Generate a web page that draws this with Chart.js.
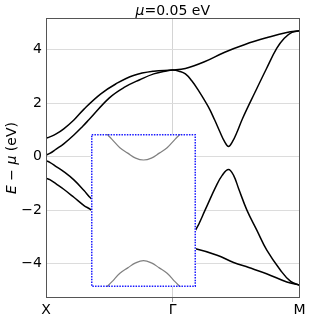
<!DOCTYPE html>
<html>
<head>
<meta charset="utf-8">
<script src="https://cdn.jsdelivr.net/npm/chart.js@4.4.1/dist/chart.umd.min.js"></script>
<style>
    html, body { margin: 0; padding: 0; background: #fff; }
    #wrap { position: relative; width: 310px; height: 320px; }
    #mainChart { position: absolute; left: 0; top: 0; }
    #insetChart { position: absolute; left: 91px; top: 134px; }
</style>
</head>
<body>
<div id="wrap">
    <canvas id="mainChart" width="310" height="320"></canvas>
    <canvas id="insetChart" width="105" height="153"></canvas>
</div>
<script>
// axis ticks
const kTicks = [0, 1, 2];
const kLabels = ['X', 'Γ', 'M'];
const energyTicks = [-4, -2, 0, 2, 4];

// bands (k: X=0, Γ=1, M=2; energy E - mu in eV)
const band1K = [0, 0.03, 0.08, 0.14, 0.22, 0.3, 0.43, 0.55, 0.69, 0.85, 1.0, 1.1, 1.25, 1.41, 1.57, 1.74, 1.9, 2.0];
const band1E = [0.69, 0.74, 0.85, 1.04, 1.37, 1.78, 2.34, 2.72, 3.04, 3.2, 3.24, 3.3, 3.55, 3.91, 4.2, 4.45, 4.65, 4.71];

const band2K = [0, 0.03, 0.08, 0.14, 0.22, 0.29, 0.34, 0.5, 0.62, 0.74, 0.85, 0.95, 1.0, 1.05, 1.1, 1.15, 1.2, 1.28, 1.33, 1.37, 1.41, 1.44, 1.47, 1.51, 1.55, 1.65, 1.74, 1.82, 1.88, 1.94, 2.0];
const band2E = [0.06, 0.12, 0.28, 0.48, 0.81, 1.14, 1.39, 2.2, 2.6, 2.88, 3.1, 3.21, 3.24, 3.2, 3.1, 2.84, 2.5, 1.87, 1.38, 0.95, 0.55, 0.38, 0.55, 0.95, 1.42, 2.42, 3.3, 4.05, 4.43, 4.65, 4.71];

const band3K = [0, 0.03, 0.08, 0.14, 0.22, 0.3, 0.35, 0.5, 0.7, 0.85, 1.0, 1.1, 1.18, 1.255, 1.34, 1.39, 1.44, 1.48, 1.52, 1.585, 1.663, 1.742, 1.85, 1.93, 2.0];
const band3E = [-0.15, -0.21, -0.37, -0.56, -0.87, -1.27, -1.54, -2.2, -2.85, -3.2, -3.3, -3.2, -2.75, -2.0, -1.12, -0.7, -0.48, -0.7, -1.2, -2.0, -2.75, -3.5, -4.25, -4.67, -4.81];

const band4K = [0, 0.03, 0.08, 0.14, 0.22, 0.3, 0.35, 0.5, 0.7, 0.85, 1.0, 1.18, 1.35, 1.48, 1.6, 1.74, 1.9, 2.0];
const band4E = [-0.81, -0.86, -1.02, -1.22, -1.52, -1.83, -1.97, -2.5, -3.0, -3.22, -3.3, -3.45, -3.69, -3.96, -4.15, -4.38, -4.69, -4.81];

// inset (zoomed view, no axes shown)
const insetK = [-0.7, -0.6, -0.45, -0.3, -0.15, 0, 0.15, 0.3, 0.45, 0.6, 0.7];
const insetUpper = [1.0, 0.93, 0.82, 0.75, 0.685, 0.66, 0.685, 0.75, 0.82, 0.93, 1.0];
const insetLower = [-1.0, -0.93, -0.82, -0.75, -0.685, -0.655, -0.685, -0.75, -0.82, -0.93, -1.0];

const FONT = '"DejaVu Sans", sans-serif';

function toPoints(ks, es) {
    return ks.map((k, i) => ({ x: k, y: es[i] }));
}

function bandDataset(ks, es, color, width) {
    return {
        data: toPoints(ks, es),
        borderColor: color,
        borderWidth: width,
        pointRadius: 0,
        fill: false,
        tension: 0.4,
    };
}

function drawRuns(ctx, runs, x, y) {
    let total = 0;
    runs.forEach(run => {
        ctx.font = `${run.italic ? 'italic ' : ''}14px ${FONT}`;
        run.w = ctx.measureText(run.text).width;
        total += run.w;
    });
    let start = x - total / 2;
    runs.forEach(run => {
        ctx.font = `${run.italic ? 'italic ' : ''}14px ${FONT}`;
        ctx.fillText(run.text, start, y);
        start += run.w;
    });
}

const frameAndLabels = {
    id: 'frameAndLabels',
    afterDraw(chart) {
        const { ctx, chartArea: a } = chart;
        ctx.save();
        ctx.strokeStyle = '#555';
        ctx.lineWidth = 1;
        const x0 = Math.round(a.left) + 0.5;
        const y0 = Math.round(a.top) + 0.5;
        const x1 = Math.round(a.right) - 0.5;
        const y1 = Math.round(a.bottom) - 0.5;
        ctx.strokeRect(x0, y0, x1 - x0, y1 - y0);

        ctx.fillStyle = '#000';
        ctx.textBaseline = 'alphabetic';
        ctx.textAlign = 'left';
        drawRuns(ctx, [{ text: 'μ', italic: true }, { text: '=0.05 eV' }], (a.left + a.right) / 2, 15);

        ctx.translate(15.5, (a.top + a.bottom) / 2);
        ctx.rotate(-Math.PI / 2);
        drawRuns(ctx, [
            { text: 'E', italic: true },
            { text: ' − ' },
            { text: 'μ', italic: true },
            { text: ' (eV)' },
        ], 0, 0);
        ctx.restore();
    }
};

new Chart(document.getElementById('mainChart'), {
    type: 'line',
    data: {
        datasets: [
            bandDataset(band1K, band1E, '#000', 1.5),
            bandDataset(band2K, band2E, '#000', 1.5),
            bandDataset(band3K, band3E, '#000', 1.5),
            bandDataset(band4K, band4E, '#000', 1.5),
        ]
    },
    options: {
        responsive: false,
        animation: false,
        devicePixelRatio: 1,
        layout: { padding: { top: 18, right: 10.5, left: 0, bottom: 0 } },
        plugins: {
            legend: { display: false },
            tooltip: { enabled: false },
            title: { display: false },
        },
        scales: {
            x: {
                type: 'linear',
                min: 0,
                max: 2,
                offset: false,
                afterBuildTicks: scale => {
                    scale.ticks = kTicks.map(v => ({ value: v }));
                },
                afterFit: scale => { scale.height = 22; },
                ticks: {
                    autoSkip: false,
                    maxRotation: 0,
                    padding: 0,
                    color: '#000',
                    font: { family: FONT, size: 14 },
                    callback: value => kLabels[kTicks.indexOf(value)],
                },
                grid: {
                    color: '#d4d4d4',
                    lineWidth: 1,
                    tickLength: 4,
                    tickColor: ctx => (ctx.tick && ctx.tick.value === 1) ? '#999' : 'rgba(0,0,0,0)',
                },
                border: { display: false },
            },
            y: {
                min: -5.29,
                max: 5.19,
                afterBuildTicks: scale => {
                    scale.ticks = energyTicks.map(v => ({ value: v }));
                },
                afterFit: scale => { scale.width = 46; },
                ticks: {
                    padding: 4,
                    color: '#000',
                    font: { family: FONT, size: 14 },
                    callback: value => (value < 0 ? '−' + Math.abs(value) : String(value)),
                },
                grid: {
                    color: '#dcdcdc',
                    lineWidth: 1,
                    drawTicks: false,
                },
                border: { display: false },
            }
        }
    },
    plugins: [frameAndLabels]
});

const insetFrame = {
    id: 'insetFrame',
    beforeDraw(chart) {
        const { ctx, width, height } = chart;
        ctx.save();
        ctx.fillStyle = '#fff';
        ctx.fillRect(0, 0, width, height);
        ctx.restore();
    },
    afterDraw(chart) {
        const { ctx, width, height } = chart;
        ctx.save();
        ctx.strokeStyle = '#1a1aff';
        ctx.lineWidth = 1.5;
        ctx.setLineDash([1.5, 1.2]);
        ctx.strokeRect(0.75, 0.75, width - 1.5, height - 1.5);
        ctx.restore();
    }
};

new Chart(document.getElementById('insetChart'), {
    type: 'line',
    data: {
        datasets: [
            bandDataset(insetK, insetUpper, '#808080', 1.2),
            bandDataset(insetK, insetLower, '#808080', 1.2),
        ]
    },
    options: {
        responsive: false,
        animation: false,
        devicePixelRatio: 1,
        layout: { padding: 0 },
        plugins: {
            legend: { display: false },
            tooltip: { enabled: false },
        },
        scales: {
            x: { type: 'linear', min: -1, max: 1, display: false },
            y: { min: -1, max: 1, display: false },
        }
    },
    plugins: [insetFrame]
});
</script>
</body>
</html>
